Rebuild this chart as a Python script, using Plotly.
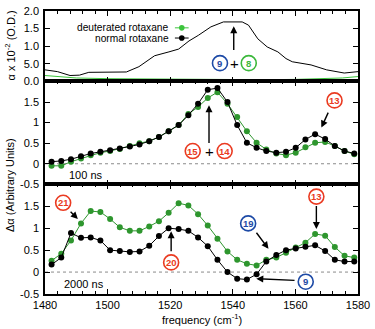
import plotly.graph_objects as go

# ---------------- data ----------------
# top panel: static absorbance (alpha x 10^-2, O.D.)
top_freq_normal = [1480, 1484, 1488, 1491, 1494, 1500, 1506, 1510, 1515, 1519.6, 1522.7, 1526,
                   1529, 1533, 1537, 1543, 1545, 1548, 1551, 1554.4, 1557, 1559, 1565, 1570,
                   1575.6, 1580]
top_normal = [0.33, 0.28, 0.17, 0.18, 0.26, 0.27, 0.27, 0.42, 0.73, 0.84, 0.92, 1.15,
              1.31, 1.55, 1.69, 1.69, 1.60, 1.21, 0.98, 0.84, 0.65, 0.56, 0.47, 0.33,
              0.24, 0.28]
top_freq_deut = [1480, 1485, 1490, 1500, 1510, 1520, 1530, 1540, 1550, 1560, 1570, 1575, 1580]
top_deut = [0.17, 0.13, 0.10, 0.08, 0.07, 0.06, 0.05, 0.05, 0.05, 0.06, 0.08, 0.10, 0.14]

# transient spectra (delta alpha, arbitrary units)
freq = [1482.1, 1485.2, 1488.3, 1491.5, 1494.6, 1497.7, 1500.8, 1503.9, 1507.1, 1510.2,
        1513.3, 1516.4, 1519.5, 1522.7, 1525.8, 1528.9, 1532.0, 1535.1, 1538.3, 1541.4,
        1544.5, 1547.6, 1550.7, 1553.9, 1557.0, 1560.1, 1563.2, 1566.3, 1569.5, 1572.6,
        1575.7, 1578.8]
normal_100 = [0.05, 0.07, 0.11, 0.18, 0.25, 0.29, 0.33, 0.37, 0.42, 0.47,
              0.55, 0.65, 0.79, 0.94, 1.18, 1.46, 1.80, 1.84, 1.50, 0.94,
              0.51, 0.39, 0.31, 0.27, 0.29, 0.39, 0.59, 0.72, 0.60, 0.43,
              0.31, 0.25]
deut_100 = [-0.05, -0.05, 0.05, 0.13, 0.21, 0.27, 0.31, 0.36, 0.43, 0.50,
            0.55, 0.65, 0.79, 0.94, 1.21, 1.38, 1.60, 1.74, 1.46, 1.14,
            0.79, 0.51, 0.35, 0.25, 0.21, 0.27, 0.40, 0.51, 0.53, 0.43,
            0.31, 0.23]
normal_2000 = [0.17, 0.33, 0.89, 0.78, 0.79, 0.72, 0.50, 0.48, 0.46, 0.47,
               0.60, 0.82, 1.00, 0.98, 0.94, 0.79, 0.59, 0.28, 0.00, -0.15,
               -0.17, -0.05, 0.24, 0.39, 0.50, 0.54, 0.58, 0.61, 0.48, 0.28,
               0.24, 0.24]
deut_2000 = [0.26, 0.42, 0.72, 1.11, 1.39, 1.37, 1.21, 1.02, 0.94, 0.94,
             1.04, 1.16, 1.35, 1.57, 1.52, 1.32, 1.06, 0.76, 0.47, 0.28,
             0.19, 0.15, 0.28, 0.33, 0.44, 0.56, 0.67, 0.87, 0.83, 0.57,
             0.37, 0.33]

legend_labels = ["deuterated rotaxane", "normal rotaxane"]
top_ticks = [0, 0.5, 1, 1.5, 2]
top_ticktext = ["0.0", "5.0", "1.0", "1.5", "2.0"]
da_ticks = [-0.5, 0, 0.5, 1, 1.5]
da_ticktext = ["-0.5", "0", "0.5", "1", "1.5"]

GREEN = "#2e962e"
GREEN_TOP = "#3cc43c"
RED = "#ea3b22"
BLUE = "#1d4aa6"
FONT = "Liberation Sans, Arial, sans-serif"

fig = go.Figure()

fig.add_trace(go.Scatter(x=top_freq_deut, y=top_deut, mode="lines",
                         line=dict(color=GREEN_TOP, width=1), xaxis="x", yaxis="y",
                         showlegend=False, hoverinfo="skip"))
fig.add_trace(go.Scatter(x=top_freq_normal, y=top_normal, mode="lines",
                         line=dict(color="black", width=1), xaxis="x", yaxis="y",
                         showlegend=False, hoverinfo="skip"))

for ax, g, b in (("2", deut_100, normal_100), ("3", deut_2000, normal_2000)):
    fig.add_trace(go.Scatter(x=freq, y=g, mode="lines+markers",
                             line=dict(color=GREEN, width=1),
                             marker=dict(color=GREEN, size=6),
                             xaxis="x" + ax, yaxis="y" + ax, showlegend=False))
    fig.add_trace(go.Scatter(x=freq, y=b, mode="lines+markers",
                             line=dict(color="black", width=1),
                             marker=dict(color="black", size=6),
                             xaxis="x" + ax, yaxis="y" + ax, showlegend=False))

top_dom = [0.7509, 1.0]
mid_dom = [0.3875, 0.7509]
bot_dom = [0.0, 0.3875]

xcommon = dict(range=[1480, 1580], showline=True, linecolor="black", linewidth=1.5,
               mirror="allticks", ticks="inside", ticklen=5, tickwidth=1.3,
               tickcolor="black", dtick=20, tick0=1480, showgrid=False, zeroline=False,
               minor=dict(dtick=4, tick0=1480, ticks="inside", ticklen=3,
                          tickcolor="black", tickwidth=1, showgrid=False),
               tickfont=dict(family=FONT, size=11, color="black"))
ycommon = dict(showline=True, linecolor="black", linewidth=1.5, mirror="allticks",
               ticks="inside", ticklen=5, tickwidth=1.3, tickcolor="black",
               showgrid=False, zeroline=False, ticklabelstandoff=2,
               tickfont=dict(family=FONT, size=11, color="black"))

fig.update_layout(
    width=375, height=329,
    margin=dict(l=45, r=14, t=5, b=35),
    paper_bgcolor="white", plot_bgcolor="white",
    showlegend=False,
    xaxis=dict(xcommon, domain=[0, 1], anchor="y", showticklabels=False),
    xaxis2=dict(xcommon, domain=[0, 1], anchor="y2", showticklabels=False),
    xaxis3=dict(xcommon, domain=[0, 1], anchor="y3", showticklabels=True),
    yaxis=dict(ycommon, domain=top_dom, anchor="x", range=[0, 2],
               tickvals=top_ticks, ticktext=top_ticktext),
    yaxis2=dict(ycommon, domain=mid_dom, anchor="x2", range=[-0.5, 2],
                tickvals=da_ticks, ticktext=da_ticktext),
    yaxis3=dict(ycommon, domain=bot_dom, anchor="x3", range=[-0.5, 2],
                tickvals=da_ticks, ticktext=da_ticktext),
)

shapes = []
annotations = []

# zero dotted lines
for ax in ("2", "3"):
    shapes.append(dict(type="line", xref="x" + ax + " domain", yref="y" + ax,
                       x0=0, x1=1, y0=0, y1=0, layer="below",
                       line=dict(color="#8a8a8a", width=1, dash="dot")))

# axis titles
annotations.append(dict(text="α x 10<sup>-2</sup> (O.D.)", xref="paper", yref="paper",
                        x=-0.112, y=0.878, textangle=-90, showarrow=False,
                        font=dict(family=FONT, size=11, color="black"),
                        xanchor="center", yanchor="middle"))
annotations.append(dict(text="Δα (Arbitrary Units)", xref="paper", yref="paper",
                        x=-0.112, y=0.385, textangle=-90, showarrow=False,
                        font=dict(family=FONT, size=11, color="black"),
                        xanchor="center", yanchor="middle"))
annotations.append(dict(text="frequency (cm<sup>-1</sup>)", xref="paper", yref="paper",
                        x=0.5, y=-0.088, showarrow=False,
                        font=dict(family=FONT, size=11, color="black"),
                        xanchor="center", yanchor="middle"))

# legend (drawn manually: text right-aligned, sample to the right)
leg_y = [0.9405, 0.9045]
leg_col = [GREEN_TOP, "black"]
for lab, yy, col in zip(legend_labels, leg_y, leg_col):
    annotations.append(dict(text=lab, xref="paper", yref="paper", x=0.403, y=yy,
                            xanchor="right", yanchor="middle", showarrow=False,
                            font=dict(family=FONT, size=10.2, color="black")))
    shapes.append(dict(type="line", xref="paper", yref="paper", x0=0.415, x1=0.459,
                       y0=yy, y1=yy, line=dict(color=col, width=1)))
    shapes.append(dict(type="circle", xref="paper", yref="paper",
                       xsizemode="pixel", ysizemode="pixel",
                       xanchor=0.437, yanchor=yy, x0=-2.8, x1=2.8, y0=-2.8, y1=2.8,
                       fillcolor=col, line=dict(color=col, width=0)))


def circ(num, x, y, ax, col):
    shapes.append(dict(type="circle", xref="x" + ax, yref="y" + ax,
                       xsizemode="pixel", ysizemode="pixel", xanchor=x, yanchor=y,
                       x0=-7.5, x1=7.5, y0=-7.5, y1=7.5, fillcolor="white",
                       line=dict(color=col, width=1.6)))
    annotations.append(dict(text="<b>%s</b>" % num, x=x, y=y, xref="x" + ax, yref="y" + ax,
                            showarrow=False, xanchor="center", yanchor="middle",
                            font=dict(family=FONT, size=9.5, color=col)))


def arrow(x0, y0, x1, y1, ax):
    annotations.append(dict(text="", x=x1, y=y1, ax=x0, ay=y0,
                            xref="x" + ax, yref="y" + ax, axref="x" + ax, ayref="y" + ax,
                            showarrow=True, arrowhead=2, arrowsize=1, arrowwidth=1.4,
                            arrowcolor="black", standoff=0, startstandoff=0))


def plus(x, y, ax):
    annotations.append(dict(text="+", x=x, y=y, xref="x" + ax, yref="y" + ax,
                            showarrow=False, xanchor="center", yanchor="middle",
                            font=dict(family=FONT, size=15, color="black")))


def label(text, x, y, ax):
    annotations.append(dict(text=text, x=x, y=y, xref="x" + ax, yref="y" + ax,
                            showarrow=False, xanchor="left", yanchor="middle",
                            font=dict(family=FONT, size=11, color="black")))


# top panel
arrow(1540.3, 0.85, 1540.3, 1.57, "")
circ("9", 1535.9, 0.52, "", BLUE)
plus(1540.6, 0.52, "")
circ("8", 1545.1, 0.52, "", "#3cb83c")

# middle panel (100 ns)
arrow(1532.4, 0.47, 1532.4, 1.42, "2")
circ("15", 1527.2, 0.31, "2", RED)
plus(1532.7, 0.31, "2")
circ("14", 1537.4, 0.31, "2", RED)
circ("13", 1572.5, 1.54, "2", RED)
arrow(1570.7, 1.28, 1568.3, 0.88, "2")
label("100 ns", 1487.0, -0.28, "2")

# bottom panel (2000 ns)
circ("21", 1485.8, 1.58, "3", RED)
arrow(1487.7, 1.41, 1490.5, 1.21, "3")
circ("20", 1520.3, 0.22, "3", RED)
arrow(1520.3, 0.44, 1520.3, 0.93, "3")
circ("19", 1544.9, 1.11, "3", BLUE)
arrow(1547.2, 0.93, 1551.4, 0.53, "3")
circ("13", 1566.7, 1.72, "3", RED)
arrow(1566.7, 1.54, 1566.7, 0.98, "3")
circ("9", 1563.3, -0.22, "3", BLUE)
arrow(1560.2, -0.19, 1547.5, -0.15, "3")
label("2000 ns", 1485.3, -0.27, "3")

fig.update_layout(shapes=shapes, annotations=annotations)

fig.write_html("out.html", config={"displayModeBar": False},
               post_script="document.body.style.margin='0';document.body.style.padding='0';")
